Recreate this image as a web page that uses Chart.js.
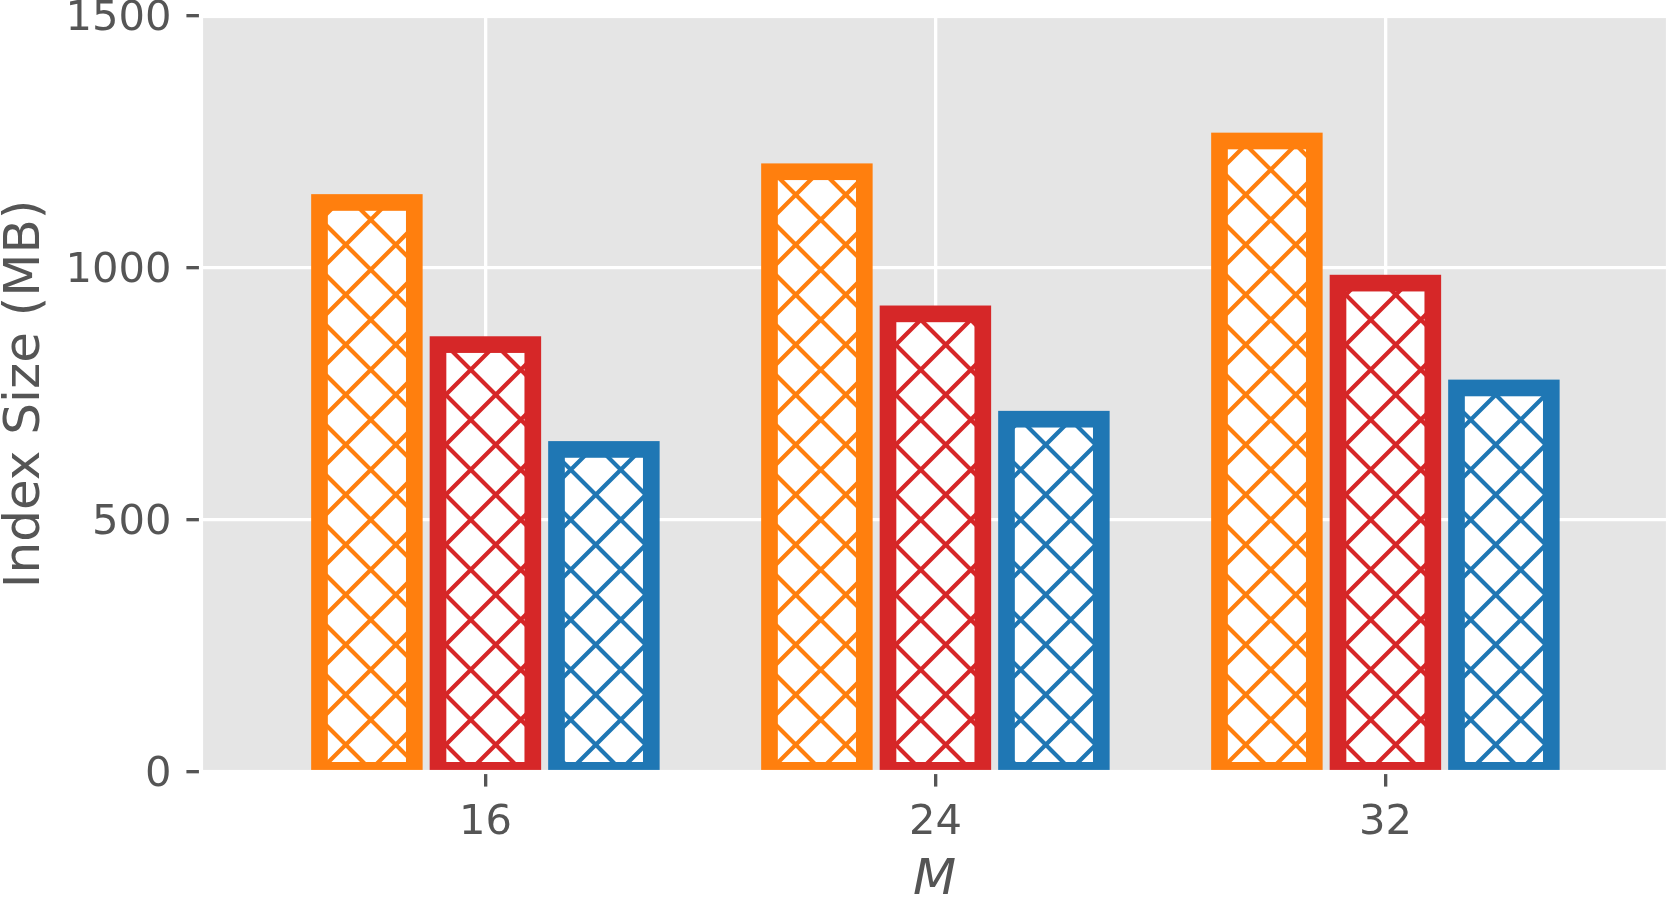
<!DOCTYPE html>
<html>
<head>
<meta charset="utf-8">
<script src="https://cdn.jsdelivr.net/npm/chart.js@4.4.1/dist/chart.umd.min.js"></script>
<style>
html, body { margin: 0; padding: 0; background: #ffffff; }
#wrap { width: 1668px; height: 897px; position: relative; }
</style>
</head>
<body>
<div id="wrap"><canvas id="c"></canvas></div>
<script>
// ---- data ----
const categories = ['16', '24', '32'];
const seriesNames = ['Series 1', 'Series 2', 'Series 3'];
const seriesOrange = [1130, 1191, 1252];
const seriesRed = [848, 909, 970];
const seriesBlue = [640, 700, 762];
const yTicks = [0, 500, 1000, 1500];
const xTitle = 'M';
const yTitle = 'Index Size (MB)';

// ---- styles ----
const colors = ['#ff7f0e', '#d62728', '#1f77b4'];
const PT = 300 / 72;
const EDGE = 4 * PT;
const HATCH_LW = 1 * PT;
const HATCH_P = 50;
const TEXT = '#555555';

const canvas = document.getElementById('c');
const mainCtx = canvas.getContext('2d');

function makeHatch(color) {
  const t = document.createElement('canvas');
  t.width = HATCH_P; t.height = HATCH_P;
  const g = t.getContext('2d');
  g.fillStyle = '#ffffff';
  g.fillRect(0, 0, HATCH_P, HATCH_P);
  g.strokeStyle = color;
  g.lineWidth = HATCH_LW;
  g.beginPath();
  for (let k = -4; k <= 4; k++) {
    const C = 40.5 + k * HATCH_P;
    g.moveTo(C + 300, -300); g.lineTo(C - 300, 300);
    const D = 1 + k * HATCH_P;
    g.moveTo(D - 300, -300); g.lineTo(D + 300, 300);
  }
  g.stroke();
  return mainCtx.createPattern(t, 'repeat');
}

const seriesValues = [seriesOrange, seriesRed, seriesBlue];

const mplPlugin = {
  id: 'mpl',
  beforeDraw(chart) {
    const { ctx, chartArea: a } = chart;
    ctx.save();
    ctx.fillStyle = '#e5e5e5';
    ctx.fillRect(a.left, a.top, a.right - a.left, a.bottom - a.top);
    ctx.restore();
  },
  afterDatasetsDraw(chart) {
    const { ctx, chartArea: a } = chart;
    ctx.save();
    ctx.beginPath();
    ctx.rect(a.left, a.top, a.right - a.left, a.bottom - a.top);
    ctx.clip();
    chart.data.datasets.forEach((ds, di) => {
      const meta = chart.getDatasetMeta(di);
      ctx.strokeStyle = colors[di];
      ctx.lineWidth = EDGE;
      ctx.lineJoin = 'miter';
      meta.data.forEach(bar => {
        const p = bar.getProps(['x', 'y', 'base', 'width'], true);
        ctx.strokeRect(p.x - p.width / 2, p.y, p.width, p.base - p.y);
      });
    });
    ctx.restore();
    ctx.save();
    ctx.strokeStyle = '#ffffff';
    ctx.lineWidth = 1 * PT;
    ctx.strokeRect(a.left, a.top, a.right - a.left, a.bottom - a.top);
    ctx.restore();
  }
};

Chart.defaults.font.family = '"DejaVu Sans", sans-serif';
Chart.defaults.color = TEXT;

new Chart(canvas, {
  type: 'bar',
  data: {
    datasets: seriesValues.map((vals, s) => ({
      label: seriesNames[s],
      data: vals.map((v, i) => ({ x: i, y: v })),
      backgroundColor: makeHatch(colors[s]),
      borderWidth: 0,
      inflateAmount: 0,
      categoryPercentage: 0.79,
      barPercentage: 0.8
    }))
  },
  options: {
    responsive: true,
    maintainAspectRatio: false,
    animation: false,
    devicePixelRatio: 1,
    layout: { padding: { top: 16, left: 0, right: 0, bottom: 0 } },
    plugins: { legend: { display: false }, tooltip: { enabled: false } },
    scales: {
      x: {
        type: 'linear',
        offset: false,
        min: -0.632,
        max: 2.628,
        afterBuildTicks: (scale) => { scale.ticks = categories.map((_, i) => ({ value: i })); },
        afterFit: (scale) => { scale.height = 125; scale.paddingLeft = 0; scale.paddingRight = 0; },
        grid: { offset: false, color: '#ffffff', lineWidth: 0.8 * PT, tickColor: TEXT, tickWidth: 0.8 * PT, tickLength: 3.5 * PT },
        border: { display: false },
        ticks: {
          autoSkip: false, maxRotation: 0, padding: 12,
          font: { size: 10 * PT }, color: TEXT,
          callback: (v) => categories[v]
        },
        title: { display: true, text: xTitle, color: TEXT, font: { size: 12 * PT, style: 'italic', lineHeight: 0.7 }, padding: { top: 0, bottom: -2 } }
      },
      y: {
        min: 0,
        max: 1500,
        afterBuildTicks: (scale) => { scale.ticks = yTicks.map(v => ({ value: v })); },
        afterFit: (scale) => { scale.width = 201; scale.paddingTop = 0; scale.paddingBottom = 0; },
        grid: { color: '#ffffff', lineWidth: 0.8 * PT, tickColor: TEXT, tickWidth: 0.8 * PT, tickLength: 3.5 * PT },
        border: { display: false },
        ticks: {
          padding: 15, labelOffset: 3, font: { size: 10 * PT }, color: TEXT,
          callback: (v) => String(v)
        },
        title: { display: true, text: yTitle, color: TEXT, font: { size: 12 * PT, lineHeight: 1 }, padding: { top: 1, bottom: 0 } }
      }
    }
  },
  plugins: [mplPlugin]
});
</script>
</body>
</html>
